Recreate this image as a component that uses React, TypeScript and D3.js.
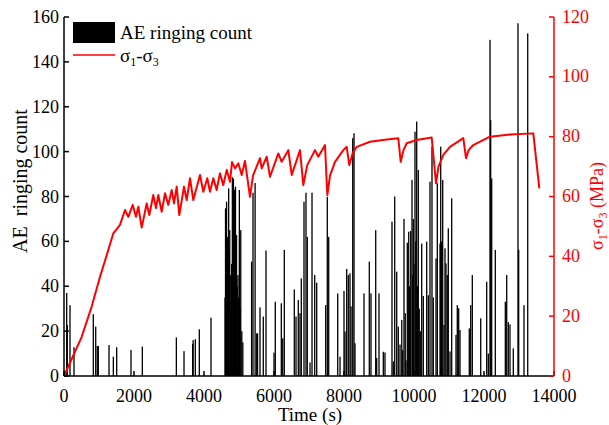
import React from 'react';
import * as d3 from 'd3';

const timeTicks = [0, 2000, 4000, 6000, 8000, 10000, 12000, 14000];
const countTicks = [0, 20, 40, 60, 80, 100, 120, 140, 160];
const stressTicks = [0, 20, 40, 60, 80, 100, 120];

const aeTime = [
  77, 94, 171, 286, 837, 906, 951, 980, 1286, 1410, 1505, 1914, 2238, 3210, 3429, 3676, 3690, 3752, 3866, 4200,
  4600, 4615, 4630, 4645, 4660, 4675, 4690, 4705, 4720, 4735, 4750, 4770, 4790, 4810, 4825, 4840, 4855, 4870, 4885, 4900,
  4915, 4930, 4950, 4970, 4990, 5010, 5030, 5050, 5080, 5110,
  5360, 5400, 5460, 5506, 5530, 5600, 5694, 5771, 6000, 6037, 6209, 6249, 6294, 6580, 6629, 6694, 6743, 6780, 6857, 6914,
  6951, 7029, 7086, 7163, 7220, 7477, 7523, 7563, 7820, 7886, 8000, 8029, 8077, 8123, 8171, 8200, 8249, 8286, 8314,
  8571, 8723, 8771, 8906, 8934, 9000, 9123, 9171, 9371, 9409, 9449, 9506, 9551, 9600, 9650, 9677, 9714, 9750, 9771, 9809,
  9849, 9870, 9906, 9943, 9960, 9980, 10000, 10029, 10050, 10077, 10100, 10123, 10150, 10180, 10220, 10266, 10363, 10409, 10457, 10514,
  10551, 10629, 10666, 10743, 10763, 10790, 10820, 10857, 10886, 10914, 10951, 10980, 11029, 11077, 11200, 11237, 11277, 11314, 11580, 11620,
  11666, 11906, 12077, 12123, 12171, 12191, 12220, 12323, 12609, 12649, 12694, 12743, 12837, 12971, 12991, 13143, 13249,
];
const aeCount = [
  37, 22.7, 31.6, 12.8, 27.6, 22, 13.4, 13.4, 13.8, 8.6, 12.8, 11.6, 13.1, 17.2, 11.1, 14.3, 16, 16.4, 20.8, 26,
  35, 74.7, 60, 77.7, 50, 62, 40, 83.6, 55, 65, 45, 30, 50, 88.6, 70, 88, 60, 83, 50, 84.4,
  55, 62.8, 40, 45, 35, 82.9, 30, 65, 20, 15,
  51, 81.7, 86, 19, 19, 30.6, 26.5, 55.9, 10.4, 33.1, 32.4, 16.8, 56.2, 38.6, 26.5, 33.9, 28, 43.5, 77.7, 81.7,
  62, 6, 81.7, 45, 41.6, 31.6, 79.9, 62, 36.8, 8.6, 37.9, 19.8, 47.7, 45, 45.8, 31, 106, 108.2, 14.6,
  36.8, 51, 36.8, 65, 8, 36.8, 10.8, 10.5, 68.8, 6.5, 80, 46.5, 22, 14, 25, 11.5, 70, 28, 7, 59.4,
  64.3, 40, 64.6, 87.4, 45, 70, 50, 108.9, 60, 113.4, 40, 91.8, 30, 20, 59, 35.7, 59.9, 36, 86.6, 102.2,
  35, 52.4, 85.9, 59, 102.2, 60, 87.4, 22.7, 56.9, 50.2, 45, 65.8, 11, 79.2, 18.3, 31.6, 30.2, 20.5, 21.2, 31.6,
  45, 25.7, 42, 10, 149.8, 114, 88.1, 56.2, 33.1, 45, 24, 23, 12.3, 157.2, 56.2, 31.6, 152.7,
];

const stressTime = [
  0, 506, 791, 1029, 1266, 1409, 1600, 1743, 1837, 1963, 2057, 2123, 2220, 2363, 2437, 2551, 2629, 2694, 2791, 2886,
  2980, 3077, 3143, 3220, 3294, 3429, 3506, 3600, 3694, 3886, 3980, 4094, 4171, 4266, 4363, 4457, 4551, 4649, 4743, 4800,
  4886, 4980, 5077, 5171, 5314, 5400, 5600, 5649, 5791, 5886, 6123, 6220, 6409, 6506, 6743, 6837, 6950, 7171, 7266, 7457,
  7523, 7600, 7743, 7980, 8077, 8151, 8250, 8363, 8743, 9171, 9551, 9620, 9700, 9791, 10077, 10506, 10629, 10700, 10837, 11029,
  11409, 11486, 11560, 11694, 12171, 12743, 13409, 13580,
];
const stressValue = [
  0, 13.1, 23.2, 33.2, 42.1, 47.7, 50.5, 55.5, 53.2, 57.2, 53.2, 56.6, 49.6, 57.7, 53.8, 60.5, 56.1, 60.5, 54.9, 61.1,
  57.2, 62.2, 57.7, 63.3, 53.8, 63.3, 58.8, 66.1, 58.8, 67.2, 61.6, 66.1, 61.6, 66.1, 62.2, 67.8, 63.8, 68.9, 64.9, 71.5,
  69.4, 71.1, 67.2, 71.9, 59.9, 67, 72.8, 69.4, 73.3, 66.6, 74.4, 71.6, 75.5, 67.2, 75.5, 63.8, 70.5, 75.5, 73.3, 77.2,
  60.5, 67, 71.6, 75.5, 76.6, 70.5, 74.5, 76.6, 78.3, 79, 79.5, 71.6, 75.5, 77.8, 78.9, 79.7, 64.4, 70, 73.9, 76.6,
  79.5, 72.8, 75.5, 77.2, 80, 80.7, 81.1, 62.7,
];

const FONT = '"Liberation Serif", "Times New Roman", serif';
const RED = '#ff0000';

export default function App() {
  const W = 609;
  const H = 425;
  const L = 64, R = 554, T = 17, B = 376;
  const x = d3.scaleLinear().domain([0, 14000]).range([L, R]);
  const yL = d3.scaleLinear().domain([0, 160]).range([B, T]);
  const yR = d3.scaleLinear().domain([0, 120]).range([B, T]);
  const line = d3
    .line<number>()
    .x((_, i) => x(stressTime[i]))
    .y((d) => yR(d));
  const path = line(stressValue) || '';
  const tl = 5;

  return (
    <svg width={W} height={H} style={{ position: 'absolute', left: 0, top: 0, background: '#fff' }} fontFamily={FONT}>
      <rect x={0} y={0} width={W} height={H} fill="#fff" />
      <g>
        {aeTime.map((t, i) => (
          <rect key={i} x={x(t) - 0.65} y={yL(aeCount[i])} width={1.3} height={yL(0) - yL(aeCount[i])} fill="#000" />
        ))}
      </g>
      <path d={path} fill="none" stroke={RED} strokeWidth={2} strokeLinejoin="round" />

      <line x1={L} x2={L} y1={T} y2={B} stroke="#000" strokeWidth={1.5} />
      {countTicks.map((v) => (
        <g key={v}>
          <line x1={L} x2={L + tl} y1={yL(v)} y2={yL(v)} stroke="#000" strokeWidth={1.5} />
          <text x={L - 5} y={yL(v) + 6} textAnchor="end" fontSize={18} fill="#000">{v}</text>
        </g>
      ))}
      <line x1={L} x2={R} y1={B} y2={B} stroke="#000" strokeWidth={1.5} />
      {timeTicks.map((v) => (
        <g key={v}>
          <line x1={x(v)} x2={x(v)} y1={B} y2={B - tl} stroke="#000" strokeWidth={1.5} />
          <text x={x(v)} y={401.5} textAnchor="middle" fontSize={18} fill="#000">{v}</text>
        </g>
      ))}
      <line x1={R} x2={R} y1={T} y2={B} stroke={RED} strokeWidth={1.5} />
      {stressTicks.map((v) => (
        <g key={v}>
          <line x1={R} x2={R - tl} y1={yR(v)} y2={yR(v)} stroke={RED} strokeWidth={1.5} />
          <text x={R + 8} y={yR(v) + 5.5} textAnchor="start" fontSize={18} fill={RED}>{v}</text>
        </g>
      ))}

      <text x={310} y={421} textAnchor="middle" fontSize={19} fill="#000">Time (s)</text>
      <text transform="translate(27,181) rotate(-90)" textAnchor="middle" fontSize={20} fill="#000" style={{ whiteSpace: 'pre' }}>
        {'AE  ringing count'}
      </text>
      <text transform="translate(603,206) rotate(-90)" textAnchor="middle" fontSize={18} fill={RED}>
        σ<tspan fontSize={12} dy={4}>1</tspan><tspan dy={-4}>-σ</tspan><tspan fontSize={12} dy={4}>3</tspan><tspan dy={-4}> (MPa)</tspan>
      </text>

      <rect x={73} y={22} width={42} height={21} fill="#000" />
      <text x={120} y={39} fontSize={19} fill="#000">AE ringing count</text>
      <line x1={73} x2={115} y1={55} y2={55} stroke={RED} strokeWidth={1.5} />
      <text x={120} y={62} fontSize={19} fill="#000">
        σ<tspan fontSize={12} dy={4}>1</tspan><tspan dy={-4}>-σ</tspan><tspan fontSize={12} dy={4}>3</tspan>
      </text>
    </svg>
  );
}
